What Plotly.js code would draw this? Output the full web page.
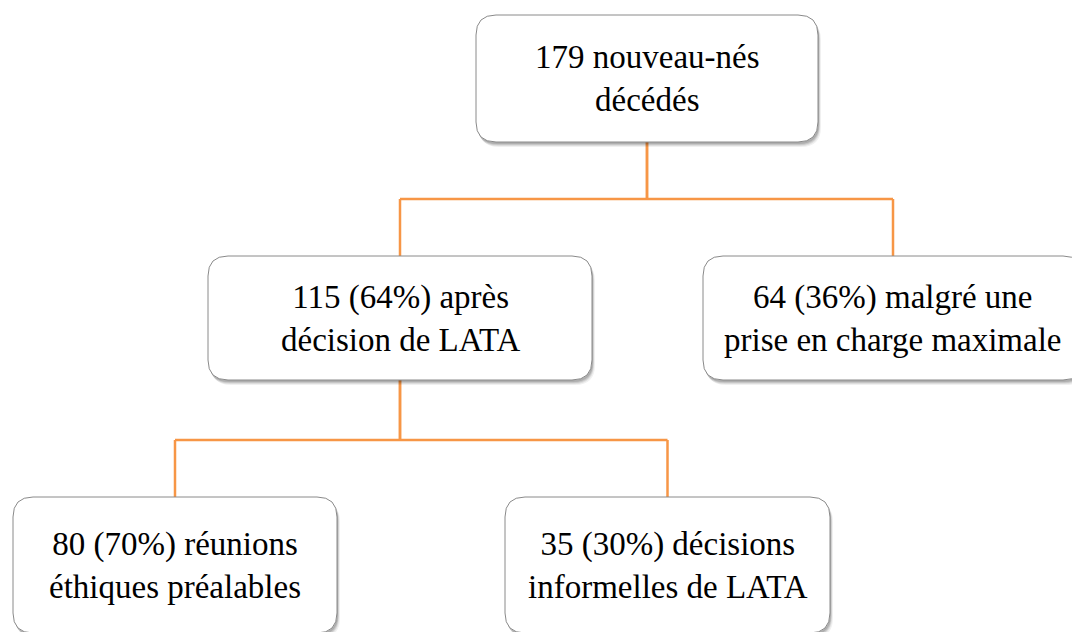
<!DOCTYPE html>
<html>
<head>
<meta charset="utf-8">
<script src="https://cdn.plot.ly/plotly-3.0.1.min.js"></script>
<style>
html,body{margin:0;padding:0;background:#fff;}
#chart{width:1072px;height:632px;}
#chart .annotation-text{font-family:"Liberation Serif","Times New Roman",Tinos,"DejaVu Serif","Noto Serif",serif !important;}
</style>
</head>
<body>
<div id="chart"></div>
<script>
// ---- data ----
var nodeCounts = [179, 115, 64, 80, 35];
var nodePercents = [null, 64, 36, 70, 30];
var nodeLine1 = ["nouveau-nés", "après", "malgré une", "réunions", "décisions"];
var nodeLine2 = ["décédés", "décision de LATA", "prise en charge maximale", "éthiques préalables", "informelles de LATA"];
var nodeParent = [null, 0, 0, 1, 1];

// ---- layout geometry (pixels) ----
var boxX0 = [476, 208, 703, 13, 505];
var boxX1 = [818, 592, 1083, 337, 830];
var boxY0 = [15, 256, 256, 497, 497];
var boxY1 = [142, 380, 380, 633, 633];
var busY = [null, 199, 199, 440, 440];

var W = 1072, H = 632, R = 20;
var orange = '#F79646';
var serif = "Liberation Serif";

function rr(x0, y0, x1, y1, r) {
  return 'M' + (x0 + r) + ',' + y0 + ' L' + (x1 - r) + ',' + y0 +
    ' Q' + x1 + ',' + y0 + ' ' + x1 + ',' + (y0 + r) +
    ' L' + x1 + ',' + (y1 - r) + ' Q' + x1 + ',' + y1 + ' ' + (x1 - r) + ',' + y1 +
    ' L' + (x0 + r) + ',' + y1 + ' Q' + x0 + ',' + y1 + ' ' + x0 + ',' + (y1 - r) +
    ' L' + x0 + ',' + (y0 + r) + ' Q' + x0 + ',' + y0 + ' ' + (x0 + r) + ',' + y0 + ' Z';
}

var shapes = [];
var cx = [], cy = [], labels = [];
for (var i = 0; i < nodeCounts.length; i++) {
  cx.push((boxX0[i] + boxX1[i]) / 2);
  cy.push((boxY0[i] + boxY1[i]) / 2);
  var l1 = nodeCounts[i] + (nodePercents[i] !== null ? ' (' + nodePercents[i] + '%)' : '') + ' ' + nodeLine1[i];
  labels.push(l1 + '<br>' + nodeLine2[i]);
}
// connectors
for (var i = 0; i < nodeCounts.length; i++) {
  var p = nodeParent[i];
  if (p === null) continue;
  var px = cx[p], by = busY[i];
  shapes.push({type: 'line', xref: 'x', yref: 'y', x0: px, x1: px, y0: boxY1[p], y1: by, line: {color: orange, width: 2.5}, layer: 'below'});
  shapes.push({type: 'line', xref: 'x', yref: 'y', x0: px, x1: cx[i], y0: by, y1: by, line: {color: orange, width: 2.5}, layer: 'below'});
  shapes.push({type: 'line', xref: 'x', yref: 'y', x0: cx[i], x1: cx[i], y0: by, y1: boxY0[i], line: {color: orange, width: 2.5}, layer: 'below'});
}
// boxes with soft shadow
for (var i = 0; i < nodeCounts.length; i++) {
  var offs = [[3, 5, 0.06], [2, 4, 0.08], [1.5, 3, 0.1], [1, 2, 0.12]];
  offs.forEach(function (o) {
    shapes.push({type: 'path', xref: 'x', yref: 'y', path: rr(boxX0[i] + o[0], boxY0[i] + o[1], boxX1[i] + o[0], boxY1[i] + o[1], R),
      fillcolor: 'rgba(0,0,0,' + o[2] + ')', line: {width: 0}, layer: 'below'});
  });
  shapes.push({type: 'path', xref: 'x', yref: 'y', path: rr(boxX0[i], boxY0[i], boxX1[i], boxY1[i], R),
    fillcolor: '#ffffff', line: {color: '#8a8a8a', width: 1}, layer: 'below'});
}

var annotations = [];
for (var i = 0; i < nodeCounts.length; i++) {
  annotations.push({
    xref: 'x', yref: 'y', x: cx[i], y: cy[i], text: labels[i], showarrow: false,
    xanchor: 'center', yanchor: 'middle', align: 'center',
    font: {family: serif, size: 33, color: '#000'}
  });
}

var trace = {
  type: 'scatter', mode: 'markers', x: cx, y: cy,
  marker: {size: 1, opacity: 0},
  hoverinfo: 'skip', showlegend: false
};

var layout = {
  width: W, height: H,
  margin: {l: 0, r: 0, t: 0, b: 0},
  font: {family: serif},
  paper_bgcolor: '#fff', plot_bgcolor: 'rgba(0,0,0,0)',
  xaxis: {range: [0, W], visible: false, fixedrange: true},
  yaxis: {range: [H, 0], visible: false, fixedrange: true},
  shapes: shapes,
  annotations: annotations,
  showlegend: false
};

Plotly.newPlot('chart', [trace], layout, {displayModeBar: false, staticPlot: true});
</script>
</body>
</html>
